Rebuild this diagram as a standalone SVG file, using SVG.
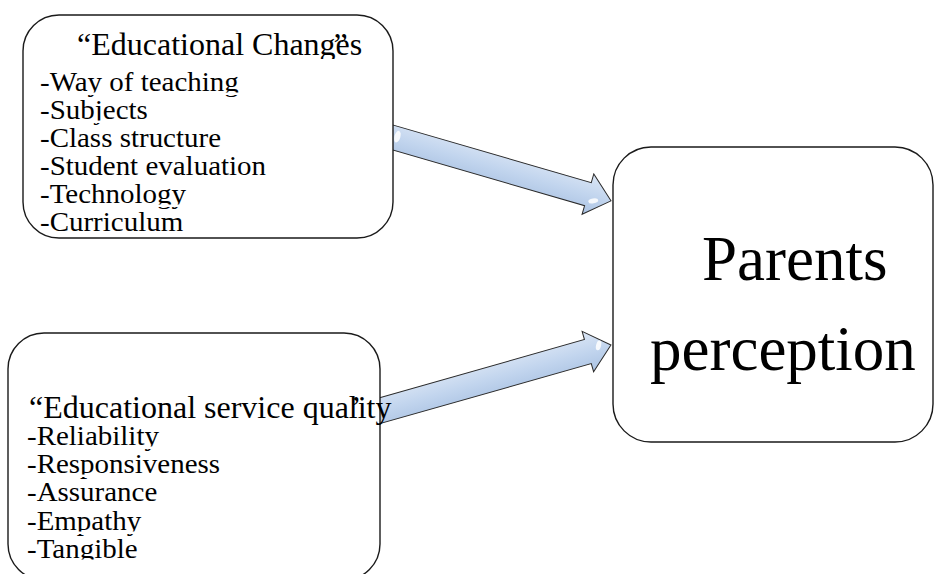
<svg xmlns="http://www.w3.org/2000/svg" width="934" height="574" viewBox="0 0 934 574">
<defs>
<linearGradient id="ag" gradientUnits="userSpaceOnUse" x1="0" y1="-21" x2="0" y2="21">
<stop offset="0" stop-color="#dbe6f5"/>
<stop offset="0.5" stop-color="#c2d5ee"/>
<stop offset="1" stop-color="#abc3e3"/>
</linearGradient>
<clipPath id="c1">
<rect x="0" y="20" width="400" height="39"/>
<rect x="0" y="67" width="400" height="25.5"/>
<rect x="0" y="95" width="400" height="25.5"/>
<rect x="0" y="123" width="400" height="25.5"/>
<rect x="0" y="151" width="400" height="25.5"/>
<rect x="0" y="179" width="400" height="25.5"/>
<rect x="0" y="207" width="400" height="28"/>
</clipPath>
<clipPath id="c2">
<rect x="0" y="385" width="420" height="40"/>
<rect x="0" y="421" width="420" height="25.5"/>
<rect x="0" y="449" width="420" height="25.5"/>
<rect x="0" y="477" width="420" height="25.5"/>
<rect x="0" y="506" width="420" height="25.5"/>
<rect x="0" y="534" width="420" height="25.5"/>
</clipPath>
</defs>
<g id="connectors" stroke="#2a2a2a" stroke-width="1">
<g transform="translate(393,137.5) rotate(16.2)">
<path fill="url(#ag)" d="M-30,-12 L203,-12 L203,-21 L227,0 L203,21 L203,12 L-30,12 Z"/>
<ellipse fill="#fff" stroke="none" opacity="0.85" cx="4" cy="-2" rx="3" ry="6"/>
<ellipse fill="#fff" stroke="none" opacity="0.85" cx="210" cy="5" rx="5" ry="2.5" transform="rotate(-25 210 5)"/>
</g>
<g transform="translate(382,410) rotate(-15.85)">
<path fill="url(#ag)" d="M-30,-12.5 L214,-12.5 L214,-21 L238,0 L214,21 L214,12.5 L-30,12.5 Z"/>
<ellipse fill="#fff" stroke="none" opacity="0.85" cx="226" cy="-3" rx="2.5" ry="5" transform="rotate(30 226 -3)"/>
</g>
</g>
<g id="node-educational-changes" font-family="Liberation Serif" fill="#000">
<rect fill="#fff" stroke="#1a1a1a" stroke-width="1.4" x="23" y="15" width="370" height="223" rx="36" ry="36"/>
<g clip-path="url(#c1)" font-size="28">
<text font-size="32" x="77" y="55">“Educational Chang<tspan dx="-2">”</tspan><tspan dx="-12.2">es</tspan></text>
<g transform="matrix(1.035,0,0,1,-1.4,0)">
<text x="40" y="91">-Way of teaching</text>
<text x="40" y="119">-Subjects</text>
<text x="40" y="147">-Class structure</text>
<text x="40" y="175">-Student evaluation</text>
<text x="40" y="203">-Technology</text>
<text x="40" y="231">-Curriculum</text>
</g>
</g>
</g>
<g id="node-service-quality" font-family="Liberation Serif" fill="#000">
<rect fill="#fff" stroke="#1a1a1a" stroke-width="1.4" x="8" y="333" width="372" height="247" rx="36" ry="36"/>
<g clip-path="url(#c2)" font-size="28">
<text font-size="32" x="29" y="418">“Educational service qual<tspan dx="-7">’</tspan><tspan dx="-3.7">ity</tspan></text>
<g transform="matrix(1.035,0,0,1,-0.945,0)">
<text x="27" y="445">-Reliability</text>
<text x="27" y="473">-Responsiveness</text>
<text x="27" y="501">-Assurance</text>
<text x="27" y="530">-Empathy</text>
<text x="27" y="558">-Tangible</text>
</g>
</g>
</g>
<g id="node-parents-perception" font-family="Liberation Serif" fill="#000">
<rect fill="#fff" stroke="#1a1a1a" stroke-width="1.4" x="613" y="147" width="320" height="295" rx="38" ry="38"/>
<text font-size="63" x="702" y="280">Parents</text>
<text font-size="63" x="650" y="370">perception</text>
</g>
</svg>
